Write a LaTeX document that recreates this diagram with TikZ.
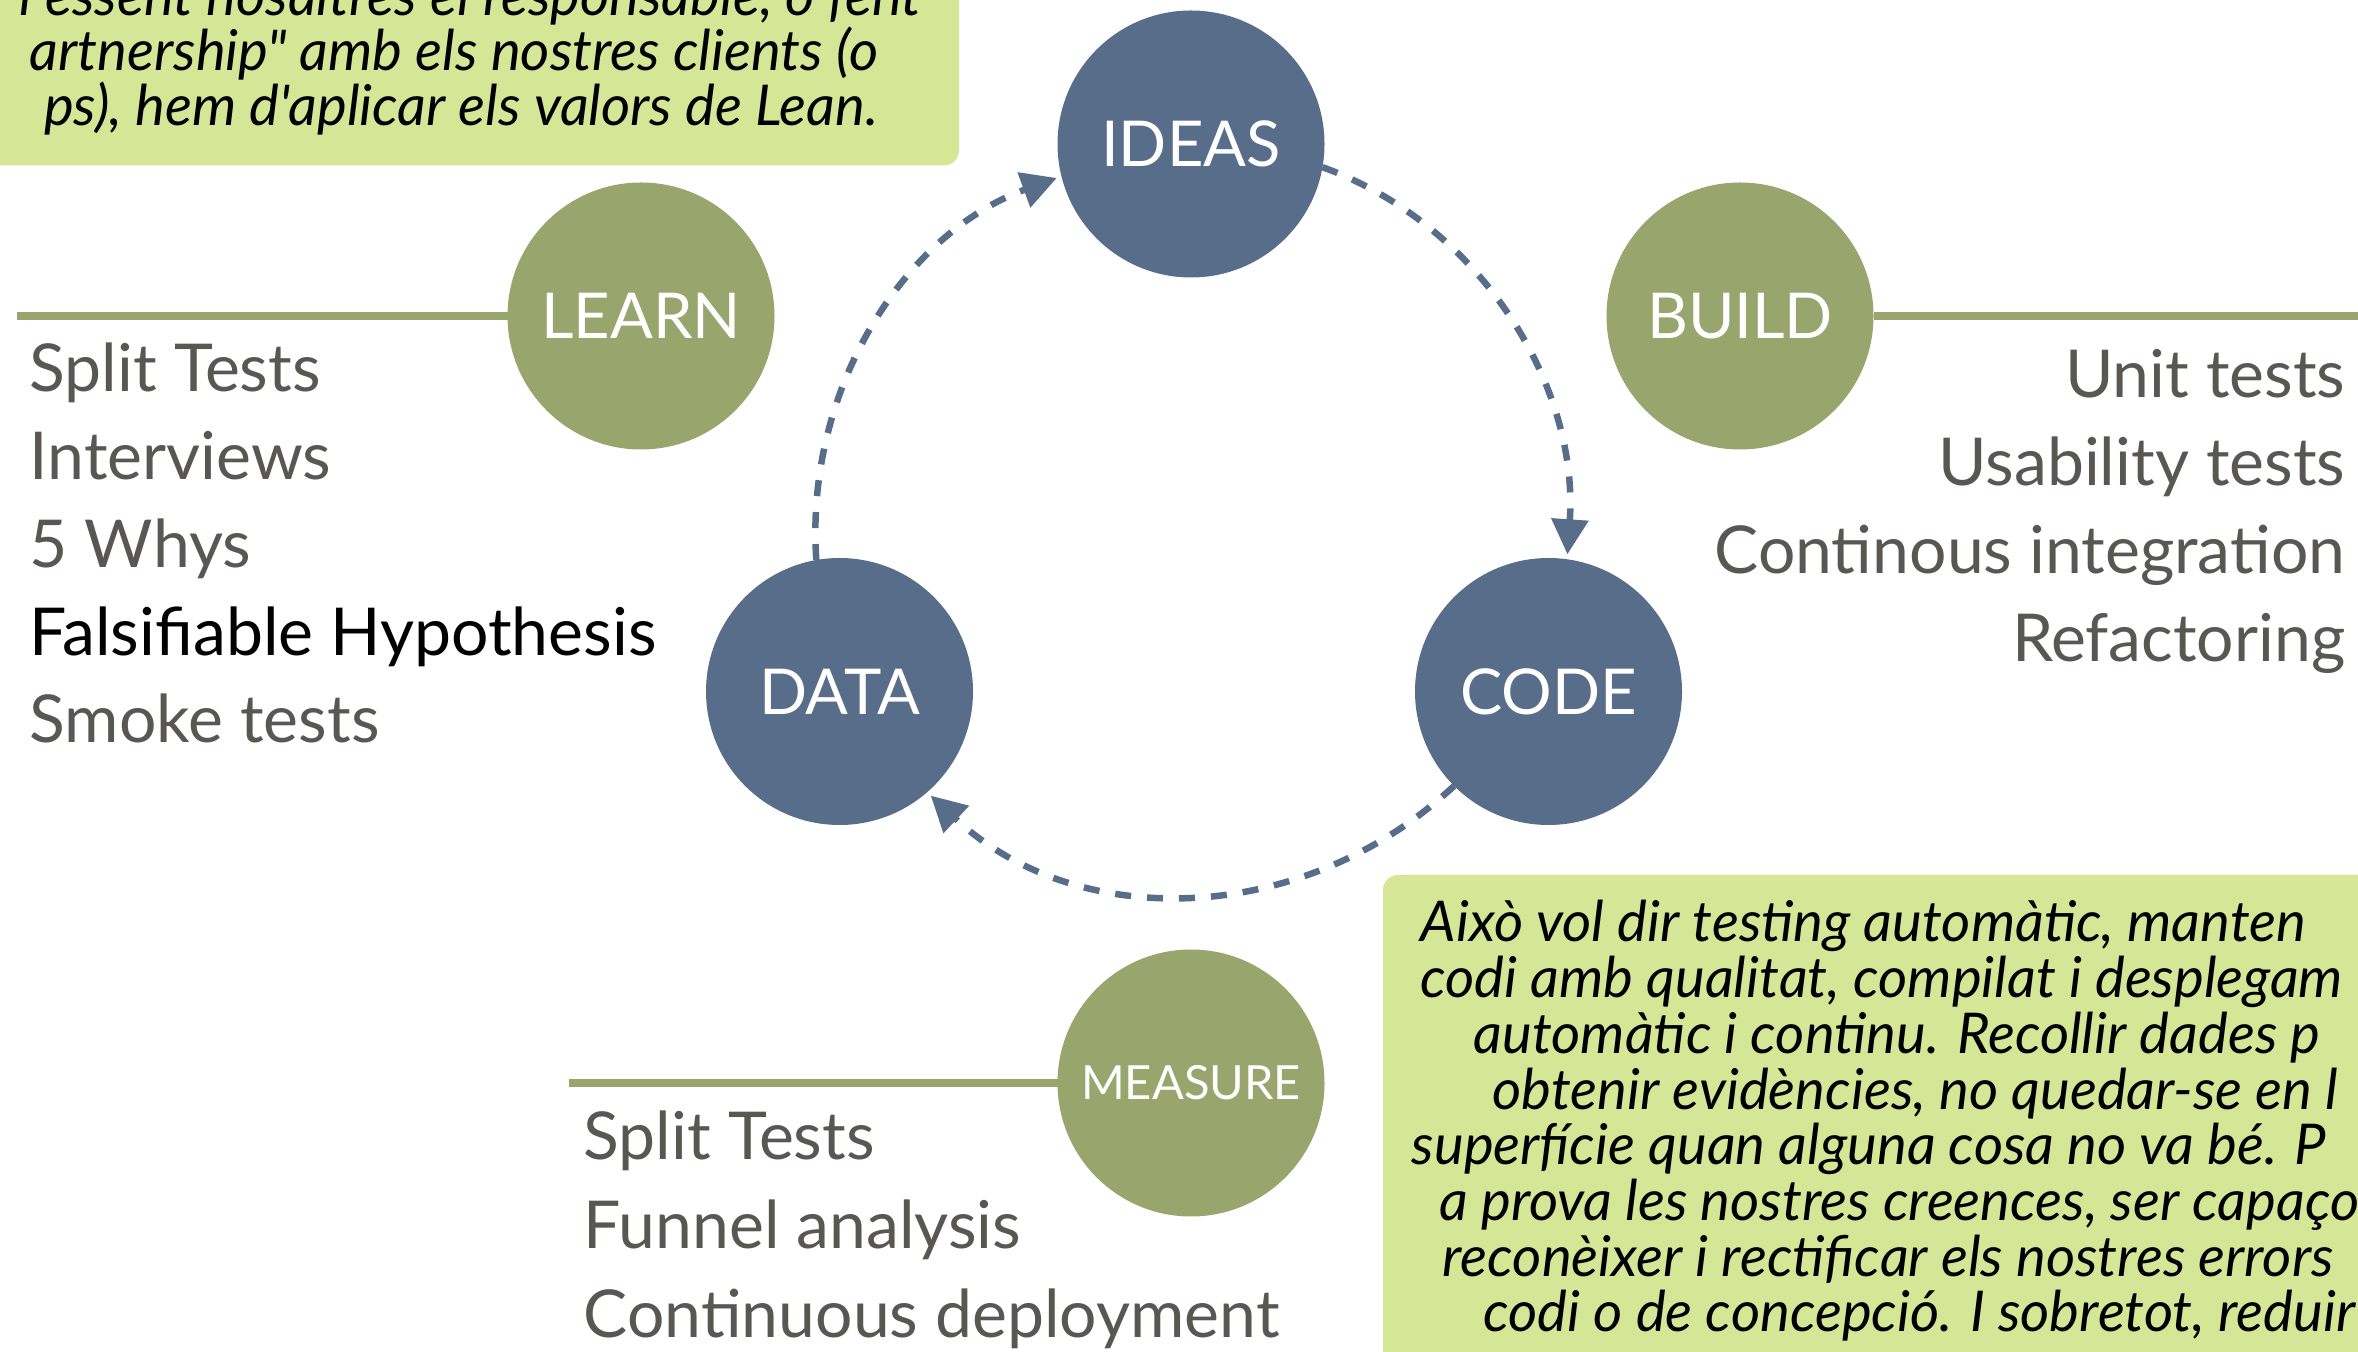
\documentclass[tikz,border=0pt]{standalone}
\usepackage{fontspec}
\usepackage{tikz}
\usetikzlibrary{arrows.meta}
\setmainfont{Lato}
\newfontfamily\notefont{Lato}
\definecolor{slateblue}{RGB}{88,109,138}
\definecolor{olivegreen}{RGB}{152,165,109}
\definecolor{notegreen}{RGB}{214,230,151}
\definecolor{itemgray}{RGB}{90,87,82}

\begin{document}
\begin{tikzpicture}[
    stagenode/.style={circle, fill=#1, text=white, minimum size=2.67cm, inner sep=0pt, outer sep=0pt, font=\fontsize{18}{20}\selectfont},
    stemline/.style={draw=olivegreen, line width=0.075cm},
    loopline/.style={draw=slateblue, line width=0.065cm, dash pattern=on 0.16cm off 0.16cm, shorten >=0.05cm, -{Triangle[length=0.35cm, width=0.36cm]}},
    listitem/.style={inner sep=0pt, text=itemgray, font=\fontsize{18.8}{22}\selectfont},
    notetext/.style={inner sep=0pt, text=black, font=\notefont\itshape\fontsize{16}{18}\selectfont},
    notebox/.style={fill=notegreen, rounded corners=0.15cm}
]
    \useasboundingbox (0,0) rectangle (23.58,-13.52);

    % note boxes (cut by the page edge)
    \fill[notebox] (-0.5,0.5) rectangle (9.59,-1.655);
    \fill[notebox] (13.83,-8.75) rectangle (24.1,-14.1);

    \foreach \txt/\yy [count=\i] in {{l essent nosaltres el responsable, o fent}/-0.16, {artnership" amb els nostres clients (o}/-0.71, {ps), hem d'aplicar els valors de Lean.}/-1.26}
        \node[notetext, anchor=base east] (lean-\i) at ({\i==1 ? 9.22 : 8.79}, \yy) {\txt};

    \foreach \xx/\txt [count=\i] in {14.20/{Això vol dir testing automàtic, manten},
                                    14.20/{codi amb qualitat, compilat i desplegam},
                                    14.73/{automàtic i continu. Recollir dades p},
                                    14.92/{obtenir evidències, no quedar-se en l},
                                    14.11/{superfície quan alguna cosa no va bé. P},
                                    14.39/{a prova les nostres creences, ser capaço},
                                    14.42/{reconèixer i rectificar els nostres errors},
                                    14.83/{codi o de concepció. I sobretot, reduir}}
        \node[notetext, anchor=base west] (auto-\i) at (\xx, {-9.42-0.557*(\i-1)}) {\txt};

    % cycle
    \node[stagenode=slateblue] (ideas) at (11.91,-1.44) {IDEAS};
    \node[stagenode=slateblue] (code) at (15.485,-6.915) {CODE};
    \node[stagenode=slateblue] (data) at (8.395,-6.915) {DATA};

    \draw[loopline] (ideas.-10) to[out=-20, in=86, looseness=0.95] (code.82);
    \draw[loopline] (code.-135) to[out=-137, in=-43, looseness=1] (data.-49);
    \draw[loopline] (data.100) to[out=94, in=200, looseness=0.95] (ideas.194);

    % practices
    \node[stagenode=olivegreen] (learn) at (6.41,-3.16) {LEARN};
    \node[stagenode=olivegreen] (build) at (17.40,-3.16) {BUILD};
    \node[stagenode=olivegreen, font=\fontsize{13.4}{15}\selectfont] (measure) at (11.91,-10.83) {MEASURE};

    \coordinate (learnend) at (0.17,-3.16);
    \coordinate (buildend) at (23.7,-3.16);
    \coordinate (measureend) at (5.69,-10.83);
    \draw[stemline] (learn.west) -- (learnend);
    \draw[stemline] (build.east) -- (buildend);
    \draw[stemline] (measure.west) -- (measureend);

    \foreach \txt/\col [count=\i] in {Split Tests/itemgray, Interviews/itemgray, 5 Whys/itemgray, Falsifiable Hypothesis/black, Smoke tests/itemgray}
        \node[listitem, text=\col, anchor=base west] (learn-\i) at (0.29, {-3.92-0.8775*(\i-1)}) {\txt};

    \foreach \txt [count=\i] in {Unit tests, Usability tests, Continous integration, Refactoring}
        \node[listitem, anchor=base east] (build-\i) at (23.46, {-3.98-0.88*(\i-1)}) {\txt};

    \foreach \txt [count=\i] in {Split Tests, Funnel analysis, Continuous deployment}
        \node[listitem, anchor=base west] (measure-\i) at (5.83, {-11.60-0.885*(\i-1)}) {\txt};
\end{tikzpicture}
\end{document}
